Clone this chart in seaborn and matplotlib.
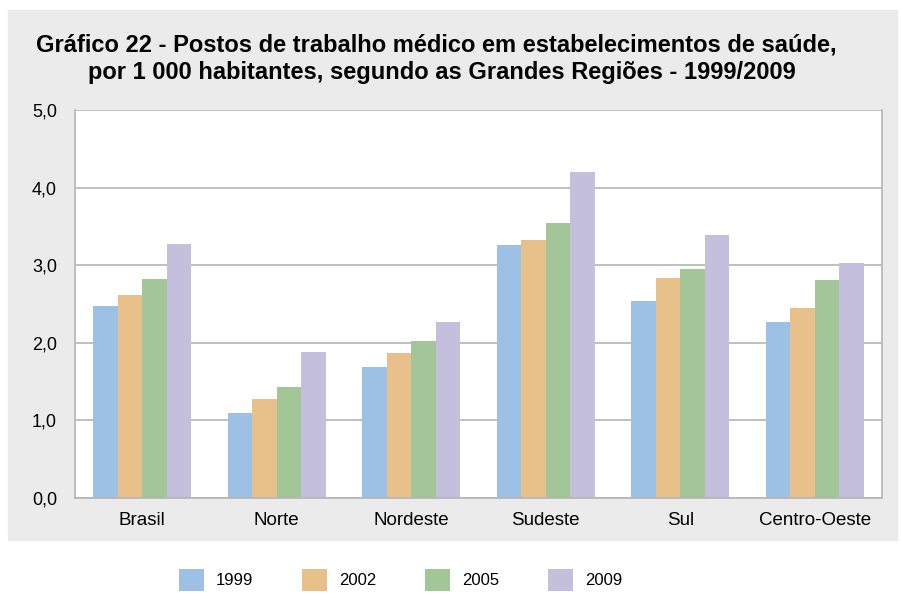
import pandas as pd
import matplotlib.pyplot as plt
import seaborn as sns
from matplotlib.patches import Rectangle

regioes = ["Brasil", "Norte", "Nordeste", "Sudeste", "Sul", "Centro-Oeste"]
anos = ["1999", "2002", "2005", "2009"]
v1999 = [2.47, 1.10, 1.69, 3.26, 2.54, 2.27]
v2002 = [2.62, 1.28, 1.87, 3.32, 2.84, 2.45]
v2005 = [2.82, 1.43, 2.02, 3.54, 2.95, 2.81]
v2009 = [3.27, 1.88, 2.27, 4.20, 3.39, 3.03]
cores = ["#9DC1E5", "#E8C089", "#A2C698", "#C4BFDD"]

df = pd.DataFrame({"regiao": regioes * 4,
                   "ano": [a for a in anos for _ in regioes],
                   "valor": v1999 + v2002 + v2005 + v2009})

sns.set_theme(style="white")
plt.rcParams["font.family"] = ["Liberation Sans", "DejaVu Sans"]
plt.rcParams["text.color"] = "black"

fig = plt.figure(figsize=(9.01, 5.94), dpi=100)
fig.patches.append(Rectangle((8 / 901, 1 - 540 / 594), 889 / 901, 530 / 594,
                             transform=fig.transFigure, color="#EBEBEB", zorder=-1))
ax = fig.add_axes([75 / 901, 1 - 498 / 594, 807 / 901, 388 / 594])

sns.barplot(data=df, x="regiao", y="valor", hue="ano", palette=cores,
            width=0.73, linewidth=0, saturation=1, ax=ax, legend=True)

ax.set_ylim(0, 5)
ax.set_yticks([0, 1, 2, 3, 4, 5])
ax.set_yticklabels(["0,0", "1,0", "2,0", "3,0", "4,0", "5,0"], fontsize=13)
ax.tick_params(axis="x", labelsize=13.5, pad=10, length=0, labelcolor="black")
ax.tick_params(axis="y", pad=13, length=0, labelcolor="black")
ax.set_xlabel("")
ax.set_ylabel("")
ax.yaxis.grid(True, color="#B4B4B4", linewidth=1.2)
ax.set_axisbelow(True)
for s in ax.spines.values():
    s.set_color("#B4B4B4")
    s.set_linewidth(1.2)
ax.spines["top"].set_visible(False)

handles, labels = ax.get_legend_handles_labels()
ax.get_legend().remove()
fig.legend(handles, labels, loc="center left", bbox_to_anchor=(179 / 901, 1 - 580 / 594),
           ncol=4, frameon=False, fontsize=12, handlelength=1.5, handleheight=1.6,
           handletextpad=0.7, columnspacing=2.95, borderpad=0, borderaxespad=0)

fig.text(0.484, 1 - 45 / 594, "Gráfico 22 - Postos de trabalho médico em estabelecimentos de saúde,",
         ha="center", va="center", fontsize=17, fontweight="bold")
fig.text(0.49, 1 - 72 / 594, "por 1 000 habitantes, segundo as Grandes Regiões - 1999/2009",
         ha="center", va="center", fontsize=17, fontweight="bold")

fig.savefig("out.png", dpi=100)
